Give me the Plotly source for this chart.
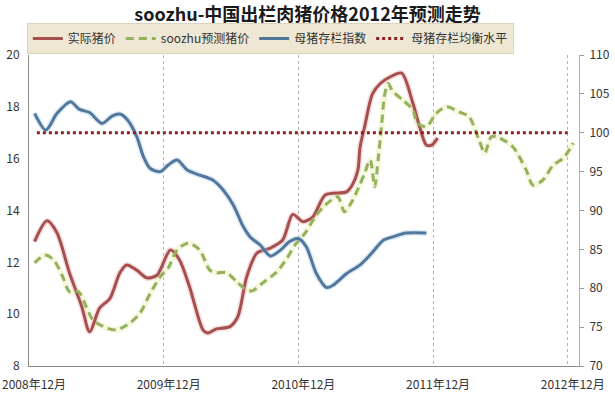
import plotly.graph_objects as go

# x positions in months after Dec 2008
actual_m = [0.5, 1.6, 2.5, 3.6, 4.7, 5.4, 6.3, 7.2, 8.1, 8.7, 9.6, 10.5, 11.4, 12.6, 13.4, 14.3,
            15.5, 15.9, 16.7, 17.9, 18.6, 19.4, 20.3, 21.5, 22.6, 23.5, 24.4, 25.3, 26.4, 28.3,
            28.8, 29.3, 29.5, 29.9, 30.6, 31.3, 32.2, 33.2, 34.2, 34.8, 35.4, 35.9, 36.4]
actual_price = [12.8, 13.6, 13.13, 11.6, 10.29, 9.32, 10.24, 10.6, 11.6, 11.9, 11.7, 11.4, 11.5, 12.48, 12.1, 11.06,
                9.39, 9.27, 9.43, 9.52, 9.9, 11.45, 12.35, 12.55, 12.86, 13.85, 13.57, 13.76, 14.6, 14.72,
                14.98, 15.56, 16.46, 17.23, 18.5, 18.9, 19.16, 19.3, 18.14, 17.23, 16.53, 16.53, 16.8]

forecast_m = [0.5, 1.4, 2.2, 3.0, 3.6, 4.4, 5.1, 5.7, 6.9, 7.8, 9.0, 9.9, 10.8, 11.7, 12.4, 13.2, 14.2,
              15.2, 16.1, 16.7, 17.6, 18.5, 19.4, 19.9, 20.8, 22.1, 23.0, 23.7, 24.6, 25.5, 26.4, 27.5,
              28.1, 28.7, 29.4, 29.9, 30.4, 30.8, 31.1, 31.4, 31.7, 32.0, 32.4, 33.3, 34.2, 34.6, 35.4,
              36.3, 37.2, 38.3, 39.2, 40.1, 40.6, 41.2, 41.9, 43.1, 44.3, 44.9, 45.8, 46.7, 47.6, 48.5]
forecast_price = [11.98, 12.28, 12.09, 11.45, 10.87, 10.87, 10.29, 9.77, 9.47, 9.39, 9.66, 10.05, 10.8, 11.45, 11.78, 12.48, 12.74,
                  12.48, 11.7, 11.6, 11.6, 11.25, 10.93, 10.9, 11.2, 11.64, 12.17, 12.67, 13.13, 13.76, 14.21, 14.53,
                  13.95, 14.29, 14.92, 15.44, 15.95, 14.92, 15.95, 17.23, 18.5, 18.9, 18.6, 18.26, 17.88, 17.37, 17.23,
                  17.76, 18.0, 17.81, 17.62, 16.72, 16.22, 16.85, 16.8, 16.46, 15.56, 14.98, 15.18, 15.75, 16.02, 16.6]

sow_m = [0.5, 1.5, 2.5, 3.7, 4.5, 5.4, 6.5, 7.4, 8.1, 8.8, 9.6, 10.2, 10.8, 11.7, 12.4, 13.2, 14.1,
         15.2, 16.4, 17.3, 18.2, 19.1, 19.7, 20.6, 21.5, 22.4, 23.2, 24.0, 24.7, 25.6, 26.5, 27.1,
         28.3, 29.5, 30.4, 31.6, 32.4, 33.6, 35.4]
sow_index = [102.5, 100.35, 102.5, 104.0, 103.0, 102.6, 101.2, 102.15, 102.4, 101.6, 99.5, 96.9, 95.4, 95.0, 95.85, 96.5, 95.2,
             94.56, 93.9, 92.64, 90.7, 87.9, 86.6, 85.56, 84.15, 84.9, 86.0, 86.4, 85.35, 81.9, 80.1, 80.4,
             81.9, 83.0, 84.3, 86.2, 86.6, 87.1, 87.1]

balance_m = [0.7, 48.0]
balance_level = [100, 100]

tick_vals = [0, 12, 24, 36, 48]
tick_text = ["2008年12月", "2009年12月", "2010年12月", "2011年12月", "2012年12月"]

RED = "#A5504E"
GREEN = "#94B25E"
BLUE = "#52779B"
DOT = "#8E1F22"

fig = go.Figure()

# soft glow under lines
fig.add_trace(go.Scatter(x=actual_m, y=actual_price, mode="lines", line=dict(color="rgba(230,150,150,0.3)", width=6, shape="spline", smoothing=0.8), showlegend=False, hoverinfo="skip"))
fig.add_trace(go.Scatter(x=forecast_m, y=forecast_price, mode="lines", line=dict(color="rgba(225,230,150,0.3)", width=6, shape="spline", smoothing=0.8), showlegend=False, hoverinfo="skip"))
fig.add_trace(go.Scatter(x=sow_m, y=sow_index, yaxis="y2", mode="lines", line=dict(color="rgba(160,200,235,0.35)", width=6, shape="spline", smoothing=0.8), showlegend=False, hoverinfo="skip"))

fig.add_trace(go.Scatter(x=actual_m, y=actual_price, mode="lines", name="实际猪价",
                         line=dict(color=RED, width=3, shape="spline", smoothing=0.8)))
fig.add_trace(go.Scatter(x=forecast_m, y=forecast_price, mode="lines", name="soozhu预测猪价",
                         line=dict(color=GREEN, width=3, dash="8px,5px", shape="spline", smoothing=0.8)))
fig.add_trace(go.Scatter(x=sow_m, y=sow_index, yaxis="y2", mode="lines", name="母猪存栏指数",
                         line=dict(color=BLUE, width=3, shape="spline", smoothing=0.8)))
fig.add_trace(go.Scatter(x=balance_m, y=balance_level, yaxis="y2", mode="lines", name="母猪存栏均衡水平",
                         line=dict(color=DOT, width=3, dash="dot")))

fig.update_layout(
    width=615, height=396,
    margin=dict(l=29, r=36, t=55, b=30, autoexpand=False),
    paper_bgcolor="white", plot_bgcolor="white",
    font=dict(family="Noto Sans CJK SC, sans-serif", color="#333333", size=12),
    title=dict(text="<b>soozhu-中国出栏肉猪价格2012年预测走势</b>", x=0.5, xanchor="center",
               y=0.964, yanchor="middle", font=dict(size=18, color="#1a1a1a")),
    legend=dict(orientation="h", x=-0.004, xanchor="left", y=1.003, yanchor="bottom",
                bgcolor="#EEE7D3", bordercolor="#DCD3BC", borderwidth=1,
                font=dict(size=12, color="#333333"), tracegroupgap=0, itemwidth=30),
    xaxis=dict(range=[0, 49], tickvals=tick_vals, ticktext=tick_text, showgrid=True, automargin=False,
               gridcolor="#B4B4B4", gridwidth=1, griddash="dot", showline=True, linecolor="#8C8C8C", linewidth=1,
               ticks="", zeroline=False, ticklabelshift=5, ticklabelstandoff=8, tickfont=dict(size=12)),
    yaxis=dict(range=[8, 20], dtick=2, showgrid=False, showline=True, linecolor="#8C8C8C", automargin=False,
               linewidth=1, ticks="", zeroline=False, ticklabelstandoff=6, tickfont=dict(size=12)),
    yaxis2=dict(range=[70, 110], dtick=5, overlaying="y", side="right", showgrid=False, automargin=False,
                showline=True, linecolor="#B0B0B0", linewidth=1, ticks="outside", ticklen=4,
                tickcolor="#999999", zeroline=False, ticklabelstandoff=3, tickfont=dict(size=12)),
    showlegend=True,
)

fig.write_html("out.html")
